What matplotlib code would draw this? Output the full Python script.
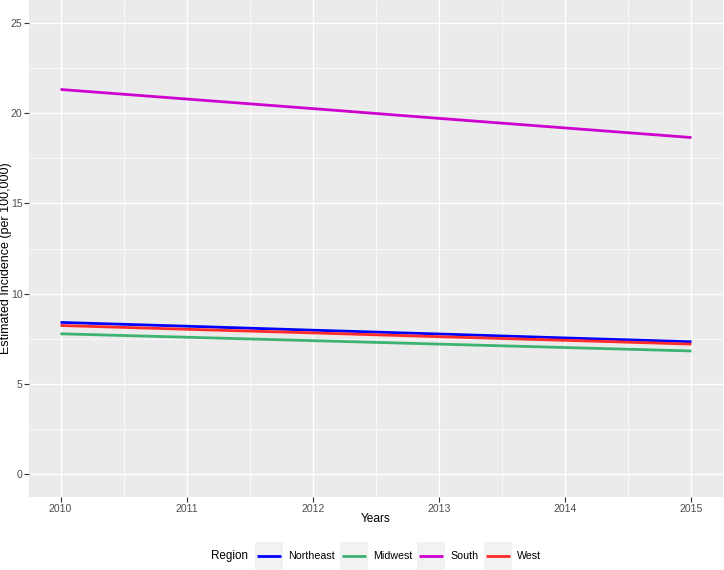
import matplotlib
matplotlib.use("Agg")
import matplotlib.pyplot as plt
from matplotlib.patches import Rectangle
from matplotlib.lines import Line2D

plt.rcParams['font.family'] = ['Liberation Sans', 'DejaVu Sans']

years = [2010, 2011, 2012, 2013, 2014, 2015]
regions = ["Northeast", "Midwest", "South", "West"]
northeast = [8.41, 8.20, 7.98, 7.77, 7.55, 7.34]
midwest = [7.78, 7.59, 7.40, 7.21, 7.02, 6.83]
south = [21.30, 20.77, 20.24, 19.70, 19.17, 18.64]
west = [8.24, 8.03, 7.83, 7.62, 7.42, 7.21]
colors = ["#0000FF", "#3CB371", "#CD00CD", "#FF2A2A"]
yticks = [0, 5, 10, 15, 20, 25]

series = [northeast, midwest, south, west]

W, H, DPI = 724, 570, 100
fig = plt.figure(figsize=(W / DPI, H / DPI), dpi=DPI)
ax = fig.add_axes([29 / W, 73 / H, 694 / W, 497 / H])
ax.set_facecolor("#EBEBEB")
for s in ax.spines.values():
    s.set_visible(False)

for vals, c in zip(series, colors):
    ax.plot(years, vals, color=c, lw=2.0, solid_capstyle="butt", zorder=3)

ax.set_xlim(2009.75, 2015.25)
ax.set_ylim(-1.25, 26.25)
ax.set_xticks(years)
ax.set_xticklabels([str(y) for y in years])
ax.set_yticks(yticks)
ax.set_yticklabels([str(y) for y in yticks])
ax.set_xticks([y + 0.5 for y in years[:-1]], minor=True)
ax.set_yticks([y + 2.5 for y in yticks[:-1]], minor=True)
ax.grid(which="major", color="white", lw=1.0, zorder=1)
ax.grid(which="minor", color="white", lw=0.5, zorder=1)
ax.set_axisbelow(True)
ax.tick_params(which="major", length=3.5, width=0.8, color="#333333",
               labelcolor="#4D4D4D", labelsize=7.6, pad=1.2)
ax.tick_params(which="minor", length=0)

fig.text((29 + 723) / 2 / W, (H - 519) / H, "Years", fontsize=8.6,
         ha="center", va="center", color="black")
fig.text(6 / W, (H - 258) / H, "Estimated Incidence (per 100,000)", fontsize=9.0,
         rotation=90, ha="center", va="center", color="black")

# Legend (ggplot-style, bottom)
fig.canvas.draw()
renderer = fig.canvas.get_renderer()
yc = (H - 556) / H
key_w, key_h = 28, 28
t = fig.text(0, yc, "Region", fontsize=8.4, va="center", ha="left")
labels = []
for r in regions:
    lt = fig.text(0, yc, r, fontsize=7.7, va="center", ha="left")
    labels.append(lt)

def width(txt):
    return txt.get_window_extent(renderer).width

total = width(t) + 7
for lt in labels:
    total += key_w + 5 + width(lt) + 5
total -= 5
x = (29 + 723) / 2 - total / 2
t.set_x(x / W)
x += width(t) + 7
for lt, c in zip(labels, colors):
    fig.patches.append(Rectangle((x / W, (H - 556 - key_h / 2) / H), key_w / W, key_h / H,
                                 transform=fig.transFigure, facecolor="#F2F2F2",
                                 edgecolor="none", zorder=1))
    fig.lines.append(Line2D([(x + 2) / W, (x + key_w - 2) / W], [yc, yc],
                            transform=fig.transFigure, color=c, lw=2.0,
                            solid_capstyle="butt", zorder=2))
    x += key_w + 5
    lt.set_x(x / W)
    x += width(lt) + 5

fig.savefig("out.png", dpi=DPI)
